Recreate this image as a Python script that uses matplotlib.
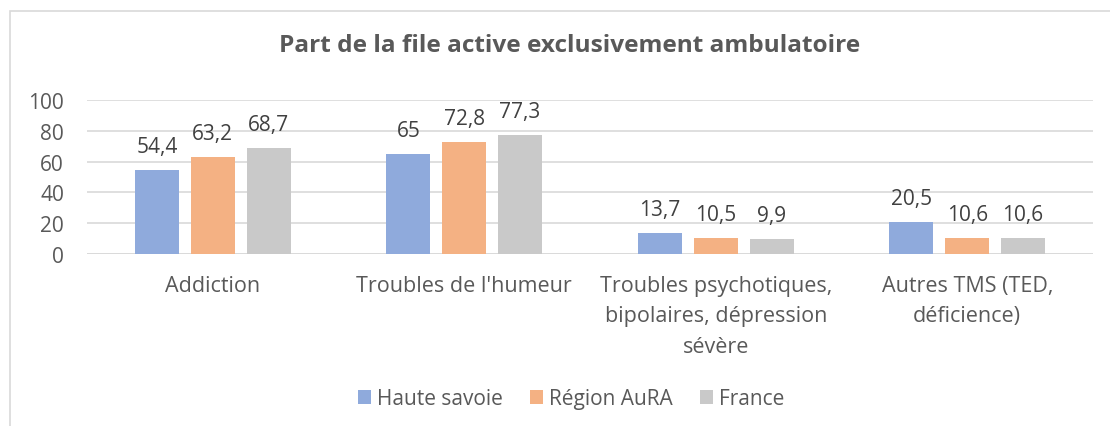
import matplotlib.pyplot as plt
from matplotlib.patches import Rectangle
import numpy as np

categories = ["Addiction", "Troubles de l'humeur",
              "Troubles psychotiques,\nbipolaires, dépression\nsévère",
              "Autres TMS (TED,\ndéficience)"]
series_names = ["Haute savoie", "Région AuRA", "France"]
haute_savoie = [54.4, 65, 13.7, 20.5]
region_aura = [63.2, 72.8, 10.5, 10.6]
france = [68.7, 77.3, 9.9, 10.6]
colors = ["#8FAADC", "#F4B183", "#C9C9C9"]

plt.rcParams['font.family'] = ['Open Sans', 'DejaVu Sans']

fig = plt.figure(figsize=(11.1, 4.27), dpi=100)
ax = fig.add_axes([87/1110, 1 - 255/427, (1093-87)/1110, (255-101)/427])

x = np.arange(len(categories))
width = 0.175
offset = 0.222
for i, (vals, name, col) in enumerate(zip([haute_savoie, region_aura, france], series_names, colors)):
    pos = x + (i - 1) * offset
    bars = ax.bar(pos, vals, width, color=col, label=name, zorder=3)
    for b, v in zip(bars, vals):
        lbl = f"{v:g}".replace('.', ',')
        ax.annotate(lbl, (b.get_x() + b.get_width()/2, v), xytext=(0, 13),
                    textcoords='offset points', ha='center', va='baseline',
                    fontsize=15, color='#404040')

ax.set_xlim(-0.5, len(categories) - 0.5)
ax.set_ylim(0, 100)
ax.set_yticks(range(0, 101, 20))
ax.yaxis.grid(True, color='#D9D9D9', linewidth=1.2, zorder=0)
for s in ax.spines.values():
    s.set_visible(False)
ax.axhline(0, color='#D9D9D9', linewidth=1.2, zorder=2)
ax.tick_params(axis='y', length=0, labelsize=15, colors='#595959', pad=16.5)
ax.set_xticks(x)
ax.set_xticklabels(categories, linespacing=1.6)
ax.tick_params(axis='x', length=0, labelsize=15.5, colors='#595959', pad=15)

fig.text(570/1110, 1 - 46/427, "Part de la file active exclusivement ambulatoire",
         ha='center', va='center', fontsize=17.6, fontweight='bold', color='#595959')

leg = fig.legend(loc='center', bbox_to_anchor=(571/1110, 1 - 400/427), ncol=3,
                 frameon=False, fontsize=15, handlelength=0.62, handleheight=0.62,
                 columnspacing=1.3, handletextpad=0.3)
for t in leg.get_texts():
    t.set_color('#595959')

# chart frame
fig.patches.append(Rectangle((10/1110, -0.1), 1.2, 1 - 12/427 + 0.1,
                             transform=fig.transFigure, fill=False,
                             edgecolor='#D9D9D9', linewidth=1.2))

fig.savefig('out.png', dpi=100)
